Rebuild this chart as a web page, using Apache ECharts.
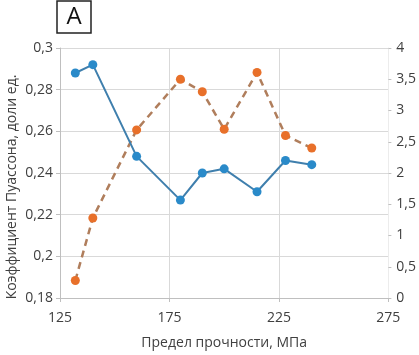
<!DOCTYPE html>
<html>
<head>
<meta charset="utf-8">
<script src="https://cdn.jsdelivr.net/npm/echarts@6/dist/echarts.min.js"></script>
<style>
  html, body { margin: 0; padding: 0; background: #fff; }
  #chart { width: 419px; height: 355px; }
</style>
</head>
<body>
<div id="chart"></div>
<script>
// strength, MPa
const strength = [132, 140, 160, 180, 190, 200, 215, 228, 240];
// Poisson ratio (left axis)
const poisson = [0.288, 0.292, 0.248, 0.227, 0.240, 0.242, 0.231, 0.246, 0.244];
// second series (right axis)
const rightVals = [0.28, 1.28, 2.69, 3.50, 3.30, 2.70, 3.61, 2.60, 2.40];

const xTitle = 'Предел прочности, МПа';
const yTitle = 'Коэффициент Пуассона, доли ед.';

const font = 'Open Sans';
const txt = '#404040';
const gridC = '#d9d9d9';

const comma = v => String(+v.toFixed(2)).replace('.', ',');

var chart = echarts.init(document.getElementById('chart'));

var option = {
  animation: false,
  grid: { left: 60, right: 30, top: 48, bottom: 55 },
  xAxis: {
    type: 'value',
    min: 125, max: 275, interval: 50,
    name: xTitle,
    nameLocation: 'middle',
    nameGap: 38,
    nameTextStyle: { fontFamily: font, fontSize: 14, color: txt },
    axisLine: { lineStyle: { color: '#bfbfbf' } },
    axisTick: { show: true, length: 4, lineStyle: { color: '#bfbfbf' } },
    axisLabel: { fontFamily: font, fontSize: 14, color: txt, margin: 13 },
    splitLine: { show: true, lineStyle: { color: gridC } }
  },
  yAxis: [{
    type: 'value',
    min: 0.18, max: 0.3, interval: 0.02,
    axisLine: { show: true, lineStyle: { color: '#bfbfbf' } },
    axisTick: { show: true, length: 4, lineStyle: { color: '#bfbfbf' } },
    axisLabel: { fontFamily: font, fontSize: 14, color: txt, margin: 7, formatter: comma },
    splitLine: { show: true, lineStyle: { color: gridC } }
  }, {
    type: 'value',
    position: 'right',
    min: 0, max: 4, interval: 0.5,
    axisLine: { show: true, lineStyle: { color: '#ececec' } },
    axisTick: { show: true, length: 3, lineStyle: { color: '#bfbfbf' } },
    axisLabel: { fontFamily: font, fontSize: 14, color: txt, margin: 8, formatter: comma },
    splitLine: { show: false }
  }],
  series: [{
    type: 'line',
    yAxisIndex: 0,
    data: strength.map((x, i) => [x, poisson[i]]),
    symbol: 'circle',
    symbolSize: 9,
    lineStyle: { color: '#3f7fad', width: 2 },
    itemStyle: { color: '#2a8ac9' },
    z: 3
  }, {
    type: 'line',
    yAxisIndex: 1,
    data: strength.map((x, i) => [x, rightVals[i]]),
    symbol: 'circle',
    symbolSize: 9,
    lineStyle: { color: '#b07e5c', width: 2.5, type: [7, 5] },
    itemStyle: { color: '#e8702a' },
    z: 2
  }],
  graphic: [{
    type: 'rect',
    shape: { x: 57, y: 1, width: 34, height: 32 },
    style: { fill: '#fff', stroke: '#222', lineWidth: 1.5 }
  }, {
    type: 'text',
    x: 74, y: 17,
    style: {
      text: 'A', fontFamily: font, fontSize: 24, fill: '#111',
      align: 'center', verticalAlign: 'middle'
    }
  }, {
    type: 'text',
    x: 12, y: 187,
    rotation: Math.PI / 2,
    style: {
      text: yTitle, fontFamily: font, fontSize: 14, fill: txt,
      align: 'center', verticalAlign: 'middle'
    }
  }]
};

chart.setOption(option);
</script>
</body>
</html>
